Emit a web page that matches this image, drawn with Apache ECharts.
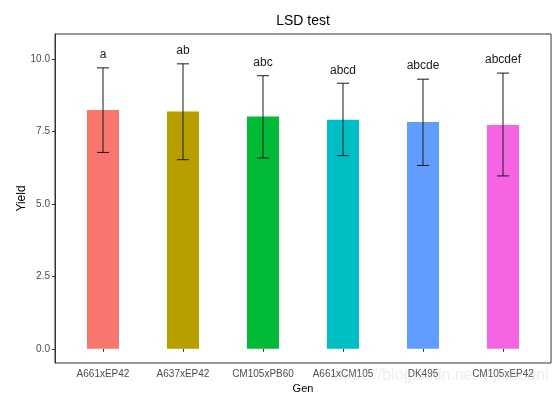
<!DOCTYPE html>
<html>
<head>
<meta charset="utf-8">
<script src="https://cdn.jsdelivr.net/npm/echarts@6/dist/echarts.min.js"></script>
<style>html,body{margin:0;padding:0;background:#fff;}#chart{width:554px;height:394px;}</style>
</head>
<body>
<div id="chart"></div>
<script>
const categories = ['A661xEP42', 'A637xEP42', 'CM105xPB60', 'A661xCM105', 'DK495', 'CM105xEP42'];
const yieldMean = [8.25, 8.19, 8.02, 7.91, 7.83, 7.73];
const errLow = [6.78, 6.53, 6.59, 6.67, 6.33, 5.97];
const errHigh = [9.70, 9.84, 9.43, 9.17, 9.31, 9.52];
const groups = ['a', 'ab', 'abc', 'abcd', 'abcde', 'abcdef'];
const barColors = ['#F8766D', '#B79F00', '#00BA38', '#00BFC4', '#619CFF', '#F564E3'];
const yTicks = [0, 2.5, 5, 7.5, 10];

const FONT = 'Liberation Sans, Arial, sans-serif';
const yMin = -0.49, yMax = 10.87;

const chart = echarts.init(document.getElementById('chart'), null, {renderer: 'canvas'});

function renderErr(params, api) {
  const i = api.value(0);
  const lo = api.value(1), hi = api.value(2);
  const pHi = api.coord([i, hi]);
  const pLo = api.coord([i, lo]);
  const band = api.size([1, 0])[0];
  const hw = band * 0.075;
  const st = {stroke: '#1a1a1a', lineWidth: 1};
  return {
    type: 'group',
    children: [
      {type: 'line', shape: {x1: pHi[0], y1: pHi[1], x2: pLo[0], y2: pLo[1]}, style: st},
      {type: 'line', shape: {x1: pHi[0] - hw, y1: pHi[1], x2: pHi[0] + hw, y2: pHi[1]}, style: st},
      {type: 'line', shape: {x1: pLo[0] - hw, y1: pLo[1], x2: pLo[0] + hw, y2: pLo[1]}, style: st},
      {type: 'text', x: pHi[0], y: pHi[1] - 13,
       style: {text: groups[i], fill: '#1a1a1a', font: '12px ' + FONT, align: 'center', verticalAlign: 'middle'}}
    ]
  };
}

const option = {
  animation: false,
  backgroundColor: '#ffffff',
  title: {
    text: 'LSD test',
    left: 303, top: 14, textAlign: 'center', padding: 0,
    textStyle: {fontFamily: FONT, fontSize: 14, fontWeight: 'normal', color: '#000'}
  },
  graphic: [{
    type: 'text', left: 334, top: 368, silent: true, z: 100,
    style: {text: 'https://blog.csdn.net/yijiaobani', fill: 'rgba(200,200,200,0.3)', font: '16px ' + FONT}
  }],
  grid: [
    {left: 55, right: 3, top: 34, bottom: 31, show: true, borderColor: '#333', borderWidth: 1, backgroundColor: '#fff', containLabel: false, outerBoundsMode: 'none'},
    {left: 63, right: 11, top: 34, bottom: 31, containLabel: false, outerBoundsMode: 'none'}
  ],
  xAxis: [
    {gridIndex: 0, type: 'value', show: false, min: 0, max: 1},
    {gridIndex: 1, type: 'category', data: categories,
     axisLine: {show: false},
     axisTick: {show: true, alignWithLabel: true, length: 3, lineStyle: {color: '#333'}},
     axisLabel: {color: '#4d4d4d', fontSize: 10, fontFamily: FONT, margin: 6, interval: 0},
     name: 'Gen', nameLocation: 'middle', nameGap: 17,
     nameTextStyle: {color: '#000', fontSize: 11, fontFamily: FONT}
    }
  ],
  yAxis: [
    {gridIndex: 0, type: 'value', min: yMin, max: yMax,
     axisLine: {show: true, lineStyle: {color: '#333'}},
     axisTick: {show: true, length: 3, customValues: yTicks, lineStyle: {color: '#333'}},
     axisLabel: {customValues: yTicks, formatter: v => Number(v).toFixed(1), color: '#4d4d4d', fontSize: 10, fontFamily: FONT, margin: 5},
     splitLine: {show: false},
     name: 'Yield', nameLocation: 'middle', nameGap: 27, nameRotate: 90, nameMoveOverlap: false,
     nameTextStyle: {color: '#000', fontSize: 12, fontFamily: FONT}
    },
    {gridIndex: 1, type: 'value', min: yMin, max: yMax, show: false, splitLine: {show: false}}
  ],
  series: [
    {type: 'bar', xAxisIndex: 1, yAxisIndex: 1, barWidth: 32,
     data: yieldMean.map((v, i) => ({value: v, itemStyle: {color: barColors[i]}}))},
    {type: 'custom', xAxisIndex: 1, yAxisIndex: 1, renderItem: renderErr,
     data: categories.map((c, i) => [i, errLow[i], errHigh[i]]), z: 5}
  ]
};
chart.setOption(option);
</script>
</body>
</html>
